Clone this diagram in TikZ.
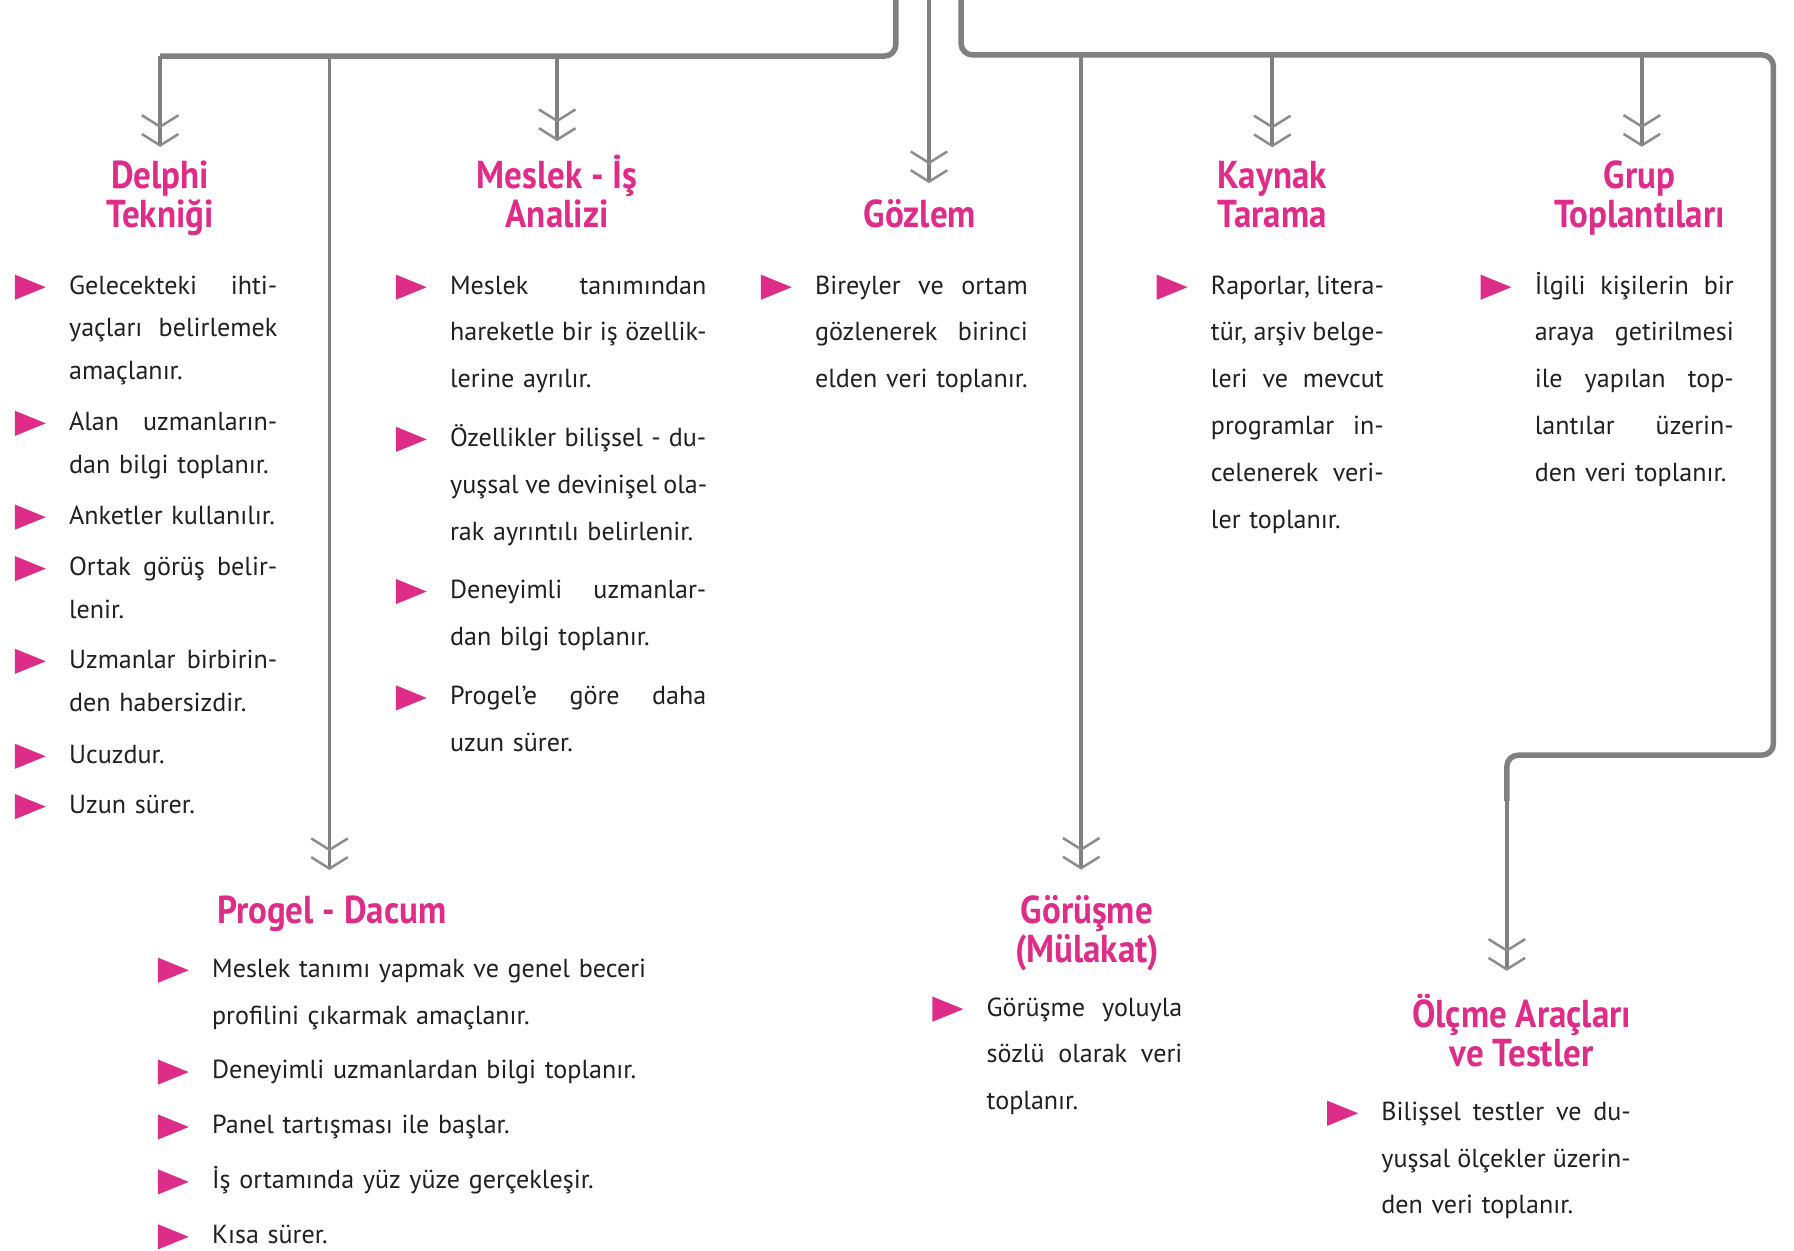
\documentclass[tikz,border=0pt]{standalone}
\usepackage{fontspec}
\setmainfont{PT Sans}
\usetikzlibrary{arrows.meta}
\setlength{\parindent}{0pt}
\definecolor{pinkc}{RGB}{222,45,136}
\definecolor{busgray}{RGB}{128,128,130}
\definecolor{chevgray}{RGB}{140,140,142}
\definecolor{textc}{RGB}{35,31,32}
\newlength\colw
\newcommand\jl[1]{\makebox[\colw][s]{\spaceskip=.25em plus 1fill\relax#1}\\}
\newcommand\bitem[4][]{%
  \node[itemtext,#1] (#2) at (#3) {#4};
  \fill[pinkc] ([xshift=-23.5pt,yshift=8.5pt]#2.base west) -- ([xshift=-10pt,yshift=3pt]#2.base west) -- ([xshift=-23.5pt,yshift=-2.5pt]#2.base west) -- cycle;}
\tikzset{
  head/.style={anchor=base, align=center, inner sep=0pt, text=pinkc, font=\bfseries\fontsize{17}{17}\selectfont\addfontfeatures{FakeStretch=0.9}},
  itemtext/.style={anchor=base west, inner sep=0pt, text width=\colw, align=left, text=textc, font=\fontsize{11.4}{20.5}\selectfont},
  tight/.style={font=\fontsize{11.4}{18.75}\selectfont},
  bus/.style={draw=busgray, line width=2.4pt, rounded corners=5pt},
  branch/.style={draw=busgray, line width=1.6pt, -{Straight Barb[length=5pt,width=16pt,line width=1.1pt,sep=2pt,color=chevgray] Straight Barb[length=5pt,width=16pt,line width=1.1pt,color=chevgray]}}
}
\begin{document}
\begin{tikzpicture}[x=0.5pt,y=-0.5pt]
\useasboundingbox (0,0) rectangle (1568,1093);
\node[head] (delphi) at (140,199) {Delphi\\Tekniği};
\node[head] (meslek) at (487,199) {Meslek - İş\\Analizi};
\node[head] (gozlem) at (804,199) {Gözlem};
\node[head] (kaynak) at (1112,199) {Kaynak\\Tarama};
\node[head] (grup) at (1433,199) {Grup\\Toplantıları};
\node[head] (progel) at (290,807) {Progel - Dacum};
\node[head] (gorusme) at (950,841) {Görüşme\\(Mülakat)};
\node[head] (olcme) at (1330,932) {Ölçme Araçları\\ve Testler};
\coordinate (inL) at (783,0);
\coordinate (inC) at (812,0);
\coordinate (inR) at (840,0);
\coordinate (busL) at (140,49);
\coordinate (busR) at (1550,48);
\coordinate (stepR) at (1317,660);
\coordinate (jProgel) at (288,49);
\coordinate (jMeslek) at (487,49);
\coordinate (jGorusme) at (945,48);
\coordinate (jKaynak) at (1112,48);
\coordinate (jGrup) at (1435,48);
\draw[bus] (inL) |- (busL);
\draw[bus] (inR) |- (busR) |- (stepR) -- (stepR |- 0,700);
\foreach \j/\t/\s in {busL/delphi/6, jMeslek/meslek/6, inC/gozlem/7, jKaynak/kaynak/6, jGrup/grup/6, jProgel/progel/11, jGorusme/gorusme/11}
  \draw[branch, shorten >=\s pt] (\j) -- (\j |- \t.north);
\draw[branch, shorten >=10pt] (stepR |- 0,699) -- (stepR |- olcme.north);
\setlength\colw{91pt}
\bitem[tight]{d1}{60,257}{\jl{Gelecekteki ihti-}\jl{yaçları belirlemek}amaçlanır.}
\bitem[tight]{d2}{60,376}{\jl{Alan uzmanların-}dan bilgi toplanır.}
\bitem[tight]{d3}{60,458}{Anketler kullanılır.}
\bitem[tight]{d4}{60,503}{\jl{Ortak görüş belir-}lenir.}
\bitem[tight]{d5}{60,584}{\jl{Uzmanlar birbirin-}den habersizdir.}
\bitem[tight]{d6}{60,667}{Ucuzdur.}
\bitem[tight]{d7}{60,711}{Uzun sürer.}
\setlength\colw{112pt}
\bitem{m1}{393,257}{\jl{Meslek tanımından}\jl{hareketle bir iş özellik-}lerine ayrılır.}
\bitem{m2}{393,390}{\jl{Özellikler bilişsel - du-}\jl{yuşsal ve devinişel ola-}rak ayrıntılı belirlenir.}
\bitem{m3}{393,523}{\jl{Deneyimli uzmanlar-}dan bilgi toplanır.}
\bitem{m4}{393,616}{\jl{Progel’e göre daha}uzun sürer.}
\setlength\colw{93pt}
\bitem{g1}{712,257}{\jl{Bireyler ve ortam}\jl{gözlenerek birinci}elden veri toplanır.}
\setlength\colw{75.5pt}
\bitem{k1}{1058,257}{\jl{Raporlar, litera-}\jl{tür, arşiv belge-}\jl{leri ve mevcut}\jl{programlar in-}\jl{celenerek veri-}ler toplanır.}
\setlength\colw{87pt}
\bitem{t1}{1341,257}{\jl{İlgili kişilerin bir}\jl{araya getirilmesi}\jl{ile yapılan top-}\jl{lantılar üzerin-}den veri toplanır.}
\setlength\colw{200pt}
\bitem{p1}{185,854}{Meslek tanımı yapmak ve genel beceri\\profilini çıkarmak amaçlanır.}
\bitem{p2}{185,943}{Deneyimli uzmanlardan bilgi toplanır.}
\bitem{p3}{185,991}{Panel tartışması ile başlar.}
\bitem{p4}{185,1039}{İş ortamında yüz yüze gerçekleşir.}
\bitem{p5}{185,1087}{Kısa sürer.}
\setlength\colw{85.5pt}
\bitem{r1}{862,888}{\jl{Görüşme yoluyla}\jl{sözlü olarak veri}toplanır.}
\setlength\colw{109pt}
\bitem{o1}{1207,979}{\jl{Bilişsel testler ve du-}\jl{yuşsal ölçekler üzerin-}den veri toplanır.}
\end{tikzpicture}
\end{document}
